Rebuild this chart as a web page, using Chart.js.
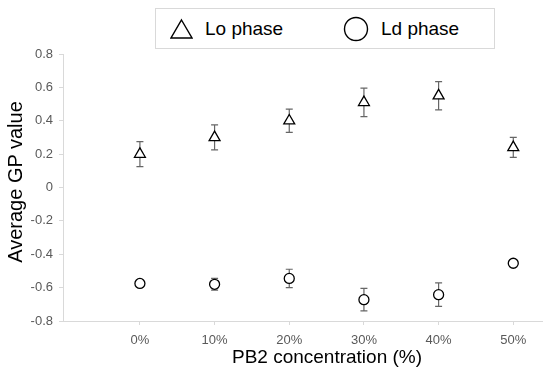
<!DOCTYPE html>
<html>
<head>
<meta charset="utf-8">
<script src="https://cdn.jsdelivr.net/npm/chart.js@4.4.0/dist/chart.umd.min.js"></script>
<style>
  body { margin: 0; background: #fff; font-family: 'Liberation Sans', Arial, sans-serif; }
  #wrap { position: relative; width: 550px; height: 373px; }
  #legend { position: absolute; left: 155px; top: 8px; width: 338px; height: 39px;
            border: 1px solid #d9d9d9; background: #fff; font-size: 19px; color: #000; }
  .item { position: absolute; top: 0; height: 39px; display: flex; align-items: center; }
  .item svg { margin-right: 12px; }
  #xtitle { position: absolute; left: 127px; width: 400px; top: 346px; height: 22px; line-height: 22px;
            text-align: center; font-size: 19px; color: #000; }
  #ytitle { position: absolute; left: 15px; top: 182px; width: 220px; height: 24px; line-height: 24px;
            margin-left: -110px; margin-top: -12px; text-align: center; font-size: 20px; color: #000;
            transform: rotate(-90deg); }
</style>
</head>
<body>
<div id="wrap">
  <canvas id="myChart" width="550" height="373"></canvas>
  <div id="legend">
    <div class="item" style="left:14px">
      <svg width="23" height="22"><polygon points="11.5,2 22,20 1,20" fill="none" stroke="#000" stroke-width="1.4"/></svg>
      <span>Lo phase</span>
    </div>
    <div class="item" style="left:187px">
      <svg width="26" height="26"><circle cx="13" cy="13" r="11.5" fill="none" stroke="#000" stroke-width="1.4"/></svg>
      <span>Ld phase</span>
    </div>
  </div>
  <div id="xtitle">PB2 concentration (%)</div>
  <div id="ytitle">Average GP value</div>
</div>
<script>
// PB2 concentration (%)
var conc = [0, 10, 20, 30, 40, 50];
var xTickLabels = ['0%', '10%', '20%', '30%', '40%', '50%'];
var yTicks = [-0.8, -0.6, -0.4, -0.2, 0, 0.2, 0.4, 0.6, 0.8];

// Lo phase
var loMean = [0.20, 0.30, 0.40, 0.51, 0.55, 0.24];
var loErr = [0.075, 0.075, 0.07, 0.085, 0.085, 0.06];

// Ld phase
var ldMean = [-0.575, -0.58, -0.545, -0.672, -0.642, -0.454];
var ldErr = [0.01, 0.035, 0.055, 0.067, 0.07, 0.01];

function points(xs, ys) {
    var out = [];
    for (var i = 0; i < xs.length; i++) {
        out.push({ x: xs[i], y: ys[i] });
    }
    return out;
}

// error bars, drawn through the chart's scales
var errorBars = {
    id: 'errorBars',
    beforeDatasetsDraw: function (chart) {
        var ctx = chart.ctx;
        var yScale = chart.scales.y;
        var errs = [loErr, ldErr];
        var means = [loMean, ldMean];
        ctx.save();
        ctx.strokeStyle = '#666666';
        ctx.lineWidth = 1.2;
        chart.data.datasets.forEach(function (ds, d) {
            var meta = chart.getDatasetMeta(d);
            meta.data.forEach(function (pt, i) {
                var x = pt.x;
                var top = yScale.getPixelForValue(means[d][i] + errs[d][i]);
                var bot = yScale.getPixelForValue(means[d][i] - errs[d][i]);
                ctx.beginPath();
                ctx.moveTo(x, top); ctx.lineTo(x, bot);
                ctx.moveTo(x - 3.5, top); ctx.lineTo(x + 3.5, top);
                ctx.moveTo(x - 3.5, bot); ctx.lineTo(x + 3.5, bot);
                ctx.stroke();
            });
        });
        ctx.restore();
    }
};

var ctx = document.getElementById('myChart').getContext('2d');
var chart = new Chart(ctx, {
    type: 'scatter',
    data: {
        datasets: [{
            label: 'Lo phase',
            data: points(conc, loMean),
            pointStyle: 'triangle',
            pointRadius: 6.3,
            pointHoverRadius: 6.3,
            borderColor: '#000',
            backgroundColor: '#fff',
            borderWidth: 1.3
        }, {
            label: 'Ld phase',
            data: points(conc, ldMean),
            pointStyle: 'circle',
            pointRadius: 5,
            pointHoverRadius: 5,
            borderColor: '#000',
            backgroundColor: '#fff',
            borderWidth: 1.3
        }]
    },
    options: {
        responsive: false,
        animation: false,
        layout: { padding: { top: 54, right: 7, left: 0, bottom: 0 } },
        plugins: {
            legend: { display: false },
            tooltip: { enabled: false }
        },
        scales: {
            x: {
                type: 'linear',
                min: -10.3,
                max: 53.9,
                afterBuildTicks: function (s) {
                    s.ticks = conc.map(function (v) { return { value: v }; });
                },
                afterFit: function (s) { s.height = 52; },
                ticks: {
                    color: '#595959',
                    font: { family: "'Liberation Sans', Arial", size: 13 },
                    padding: 8,
                    maxRotation: 0,
                    callback: function (v) { return xTickLabels[conc.indexOf(v)]; }
                },
                grid: { drawOnChartArea: false, color: '#d9d9d9', tickLength: 4 },
                border: { color: '#d9d9d9', width: 1 }
            },
            y: {
                min: -0.8,
                max: 0.8,
                afterBuildTicks: function (s) {
                    s.ticks = yTicks.map(function (v) { return { value: v }; });
                },
                afterFit: function (s) { s.width = 63; },
                ticks: {
                    color: '#595959',
                    font: { family: "'Liberation Sans', Arial", size: 13 },
                    padding: 6,
                    callback: function (v) { return String(Math.round(v * 10) / 10); }
                },
                grid: { drawOnChartArea: false, color: '#d9d9d9', tickLength: 4 },
                border: { color: '#d9d9d9', width: 1 }
            }
        }
    },
    plugins: [errorBars]
});
</script>
</body>
</html>
